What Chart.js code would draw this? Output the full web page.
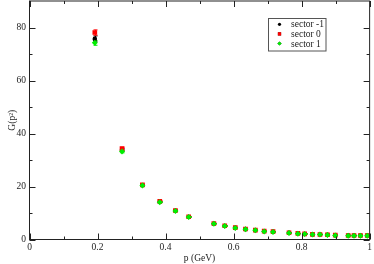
<!DOCTYPE html>
<html>
<head>
<meta charset="utf-8">
<script src="https://cdn.jsdelivr.net/npm/chart.js@4/dist/chart.umd.min.js"></script>
<style>
  body { margin: 0; background: #fff; }
  #wrap { width: 374px; height: 264px; }
</style>
</head>
<body>
<div id="wrap"><canvas id="chart"></canvas></div>
<script>
// momenta (GeV)
let pValues = [0.192, 0.272, 0.332, 0.383, 0.429, 0.468, 0.542, 0.574, 0.605, 0.635, 0.664, 0.690,
  0.716, 0.763, 0.789, 0.809, 0.832, 0.854, 0.876, 0.899, 0.937, 0.954, 0.973, 0.993];

let seriesNames = ["sector -1", "sector 0", "sector 1"];

let gSectorM1 = [75.7, 33.8, 20.5, 14.2, 10.85, 8.5, 5.95, 5.1, 4.4, 3.9, 3.5, 3.1,
  2.9, 2.5, 2.25, 2.1, 1.9, 1.9, 1.75, 1.6, 1.5, 1.5, 1.5, 1.5];
let gSector0 = [78.1, 34.3, 20.6, 14.4, 10.95, 8.6, 6.05, 5.2, 4.5, 3.95, 3.55, 3.15,
  2.95, 2.55, 2.3, 2.15, 1.95, 1.9, 1.8, 1.65, 1.5, 1.5, 1.5, 1.5];
let gSector1 = [74.2, 33.2, 20.4, 14.1, 10.8, 8.45, 5.9, 5.05, 4.35, 3.85, 3.45, 3.05,
  2.85, 2.45, 2.2, 2.05, 1.85, 1.85, 1.7, 1.55, 1.45, 1.45, 1.45, 1.45];

// error bars (only the first points are visible)
let errSectorM1 = [1.1, 0.5, 0.3, 0.2, 0.2, 0.1, 0.1, 0.1, 0.1, 0.1, 0.1, 0.1,
  0.1, 0.1, 0.1, 0.1, 0.1, 0.1, 0.1, 0.1, 0.1, 0.1, 0.1, 0.1];
let errSector0 = [1.0, 0.5, 0.3, 0.2, 0.2, 0.1, 0.1, 0.1, 0.1, 0.1, 0.1, 0.1,
  0.1, 0.1, 0.1, 0.1, 0.1, 0.1, 0.1, 0.1, 0.1, 0.1, 0.1, 0.1];
let errSector1 = [0.9, 0.5, 0.3, 0.2, 0.2, 0.1, 0.1, 0.1, 0.1, 0.1, 0.1, 0.1,
  0.1, 0.1, 0.1, 0.1, 0.1, 0.1, 0.1, 0.1, 0.1, 0.1, 0.1, 0.1];

let xMajorTicks = [0, 0.2, 0.4, 0.6, 0.8, 1];
let xMinorTicks = [0.1, 0.3, 0.5, 0.7, 0.9];
let yMajorTicks = [0, 20, 40, 60, 80];
let yMinorTicks = [10, 30, 50, 70];

const serif = "'Liberation Serif', 'DejaVu Serif', serif";
const textColor = "#222";

function toPoints(ys, errs) {
  return pValues.map((p, i) => ({ x: p, y: ys[i], err: errs[i] }));
}

// error bars drawn under the symbols
const errorBars = {
  id: "errorBars",
  beforeDatasetsDraw(chart) {
    const { ctx, scales: { x, y } } = chart;
    ctx.save();
    ctx.lineWidth = 1;
    chart.data.datasets.forEach((ds) => {
      ctx.strokeStyle = ds.borderColor;
      ds.data.forEach((pt) => {
        if (!pt.err) return;
        const px = Math.round(x.getPixelForValue(pt.x)) + 0.5;
        const top = y.getPixelForValue(pt.y + pt.err);
        const bot = y.getPixelForValue(pt.y - pt.err);
        ctx.beginPath();
        ctx.moveTo(px, top);
        ctx.lineTo(px, bot);
        ctx.moveTo(px - 2, top);
        ctx.lineTo(px + 2, top);
        ctx.moveTo(px - 2, bot);
        ctx.lineTo(px + 2, bot);
        ctx.stroke();
      });
    });
    ctx.restore();
  },
};

// frame with inward ticks on all four sides, plus the legend box
const frame = {
  id: "frame",
  afterDatasetsDraw(chart) {
    const { ctx, chartArea: a, scales: { x, y } } = chart;
    ctx.save();
    ctx.strokeStyle = "#222";
    ctx.lineWidth = 1;
    ctx.strokeRect(a.left, a.top, a.right - a.left, a.bottom - a.top);
    ctx.beginPath();
    const xt = (list, len) => list.forEach((v) => {
      const px = Math.round(x.getPixelForValue(v)) + 0.5;
      ctx.moveTo(px, a.bottom); ctx.lineTo(px, a.bottom - len);
      ctx.moveTo(px, a.top); ctx.lineTo(px, a.top + len);
    });
    const yt = (list, len) => list.forEach((v) => {
      const py = Math.round(y.getPixelForValue(v)) + 0.5;
      ctx.moveTo(a.left, py); ctx.lineTo(a.left + len, py);
      ctx.moveTo(a.right, py); ctx.lineTo(a.right - len, py);
    });
    xt(xMajorTicks, 6); xt(xMinorTicks, 3);
    yt(yMajorTicks, 6); yt(yMinorTicks, 3);
    ctx.stroke();

    // legend
    const bx = 268.5, by = 18.5, bw = 57.5, bh = 32.5;
    ctx.fillStyle = "#fff";
    ctx.fillRect(bx, by, bw, bh);
    ctx.strokeStyle = "#555";
    ctx.strokeRect(bx, by, bw, bh);
    ctx.font = "9.5px " + serif;
    ctx.textBaseline = "middle";
    chart.data.datasets.forEach((ds, i) => {
      const cy = 24.3 + i * 9.6;
      Chart.helpers.drawPoint(ctx, {
        pointStyle: ds.pointStyle,
        radius: ds.pointRadius * 0.7,
        borderWidth: 0,
      }, 279.5, cy);
      ctx.fillStyle = ds.backgroundColor;
      ctx.fill();
      ctx.fillStyle = textColor;
      ctx.fillText(ds.label, 291, cy + 0.5);
    });
    ctx.restore();
  },
};

const config = {
  type: "scatter",
  data: {
    datasets: [
      {
        label: seriesNames[0],
        data: toPoints(gSectorM1, errSectorM1),
        pointStyle: "circle",
        pointRadius: 2.3,
        backgroundColor: "#000",
        borderColor: "#000",
        borderWidth: 0,
        order: 3,
      },
      {
        label: seriesNames[1],
        data: toPoints(gSector0, errSector0),
        pointStyle: "rect",
        pointRadius: 3.3,
        backgroundColor: "#ff0000",
        borderColor: "#ff0000",
        borderWidth: 0,
        order: 2,
      },
      {
        label: seriesNames[2],
        data: toPoints(gSector1, errSector1),
        pointStyle: "rectRot",
        pointRadius: 3.0,
        backgroundColor: "#00ee00",
        borderColor: "#00ee00",
        borderWidth: 0,
        order: 1,
      },
    ],
  },
  options: {
    responsive: true,
    maintainAspectRatio: false,
    animation: false,
    layout: { autoPadding: false, padding: { top: 1, right: 3.5, left: 0, bottom: 0 } },
    scales: {
      x: {
        type: "linear",
        min: 0,
        max: 1,
        afterBuildTicks: (s) => { s.ticks = xMajorTicks.map((v) => ({ value: v })); },
        afterFit: (s) => { s.height = 24.5; },
        grid: { display: false, drawTicks: false, tickLength: 0 },
        border: { display: false },
        ticks: {
          padding: 2,
          maxRotation: 0,
          autoSkip: false,
          color: textColor,
          font: { family: serif, size: 9.5 },
          callback: (v) => String(v),
        },
        title: {
          display: true,
          text: "p (GeV)",
          color: textColor,
          padding: 0,
          font: { family: serif, size: 9.5 },
        },
      },
      y: {
        type: "linear",
        min: 0,
        max: 90,
        afterBuildTicks: (s) => { s.ticks = yMajorTicks.map((v) => ({ value: v })); },
        afterFit: (s) => { s.width = 29.5; s.paddingTop = 0; s.paddingBottom = 0; },
        grid: { display: false, drawTicks: false, tickLength: 0 },
        border: { display: false },
        ticks: {
          padding: 3.5,
          autoSkip: false,
          color: textColor,
          font: { family: serif, size: 9.5 },
          callback: (v) => String(v),
        },
        title: {
          display: true,
          text: "G(p²)",
          color: textColor,
          padding: { top: 7, bottom: 0 },
          font: { family: serif, size: 9.5 },
        },
      },
    },
    plugins: {
      legend: { display: false },
      tooltip: { enabled: false },
    },
  },
  plugins: [errorBars, frame],
};

let chart = new Chart(document.getElementById("chart"), config);
</script>
</body>
</html>
